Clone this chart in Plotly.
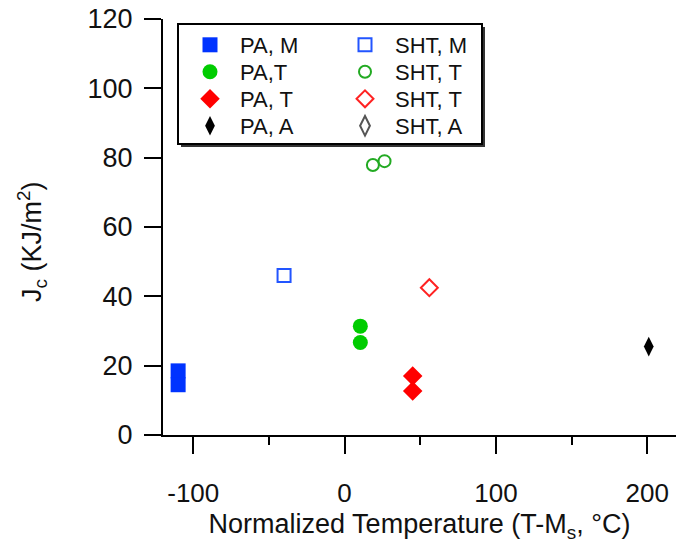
import plotly.graph_objects as go

# ---- data ----
pa_m_x = [-110, -110]
pa_m_y = [18.5, 14.5]
sht_m_x = [-40]
sht_m_y = [46]
pa_tg_x = [10.4, 10.4]
pa_tg_y = [31.4, 26.7]
sht_tg_x = [18.7, 26.4]
sht_tg_y = [77.9, 79.0]
pa_tr_x = [45, 45]
pa_tr_y = [17.0, 12.7]
sht_tr_x = [56]
sht_tr_y = [42.5]
pa_a_x = [201]
pa_a_y = [25.5]
sht_a_x = [222]
sht_a_y = [15]

x_ticks = [-100, 0, 100, 200]
x_ticktext = ["-100", "0", "100", "200"]
y_ticks = [0, 20, 40, 60, 80, 100, 120]

FONT = "Arial, Liberation Sans, sans-serif"
TXT = "#111111"

W, H = 676, 543
L, R, T, B = 163, 0, 19, 108
pw, ph = W - L - R, H - T - B

def px2paper_x(p):
    return (p - L) / pw

def px2paper_y(p):
    return (H - B - p) / ph

fig = go.Figure()

# legend slots: column left edges and row centres (px)
col_left = [180, 335]
row_mid = [45, 72, 99, 126]

def add(x, y, name, symbol, size, color, col, row, open_=False, lw=2):
    if open_:
        marker = dict(symbol=symbol + "-open", size=size, color=color,
                      line=dict(color=color, width=lw))
    else:
        marker = dict(symbol=symbol, size=size, color=color, line=dict(width=0))
    idx = col * 4 + row + 1
    lid = "legend" if idx == 1 else "legend%d" % idx
    fig.add_trace(go.Scatter(x=x, y=y, mode="markers", name=name, marker=marker,
                             legend=lid, cliponaxis=False))
    fig.update_layout({lid: dict(
        x=px2paper_x(col_left[col]), y=px2paper_y(row_mid[row]),
        xanchor="left", yanchor="middle",
        font=dict(family=FONT, size=22, color=TXT),
        bgcolor="rgba(0,0,0,0)", borderwidth=0, itemwidth=50,
        itemclick=False, itemdoubleclick=False)})

add(pa_m_x, pa_m_y, "PA, M", "square", 15, "#0033ff", 0, 0)
add(pa_tg_x, pa_tg_y, "PA,T", "circle", 15, "#00cc00", 0, 1)
add(pa_tr_x, pa_tr_y, "PA, T", "diamond", 15, "#ff0000", 0, 2)
add(pa_a_x, pa_a_y, "PA, A", "diamond-tall", 14, "#000000", 0, 3)

add(sht_m_x, sht_m_y, "SHT, M", "square", 13, "#2255ff", 1, 0, open_=True)
add(sht_tg_x, sht_tg_y, "SHT, T", "circle", 12, "#22aa22", 1, 1, open_=True)
add(sht_tr_x, sht_tr_y, "SHT, T", "diamond", 13, "#ff2222", 1, 2, open_=True)
add(sht_a_x, sht_a_y, "SHT, A", "diamond-tall", 14, "#555555", 1, 3, open_=True)

# legend frame with drop shadow
bx0, bx1, by0, by1 = 178, 482, 24, 144
fig.add_shape(type="rect", xref="paper", yref="paper",
              x0=px2paper_x(bx0 + 3), x1=px2paper_x(bx1 + 3),
              y0=px2paper_y(by1 + 3), y1=px2paper_y(by0 + 3),
              fillcolor="#333333", line=dict(width=0), layer="below")
fig.add_shape(type="rect", xref="paper", yref="paper",
              x0=px2paper_x(bx0), x1=px2paper_x(bx1),
              y0=px2paper_y(by1), y1=px2paper_y(by0),
              fillcolor="white", line=dict(color="black", width=2), layer="below")

# y-axis title placed as rotated text
fig.add_annotation(text="J<sub>c</sub> (KJ/m<sup>2</sup>)", xref="paper", yref="paper",
                   x=px2paper_x(32), y=px2paper_y(242), xanchor="center", yanchor="middle",
                   textangle=-90, showarrow=False,
                   font=dict(family=FONT, size=27, color=TXT))

fig.update_layout(
    width=W, height=H,
    margin=dict(l=L, r=R, t=T, b=B, pad=0),
    paper_bgcolor="white", plot_bgcolor="white",
    font=dict(family=FONT, color=TXT),
    showlegend=True,
    xaxis=dict(range=[-120, 219], tickvals=x_ticks, ticktext=x_ticktext,
               ticks="outside", ticklen=17,
               tickwidth=2, tickcolor="black", showline=True, linecolor="black",
               linewidth=2, showgrid=False, zeroline=False,
               tickfont=dict(family=FONT, size=26, color=TXT),
               ticklabelstandoff=17,
               minor=dict(tickvals=[-50, 50, 150], ticks="outside", ticklen=8,
                          tickwidth=2, tickcolor="black", showgrid=False),
               title=dict(text="Normalized Temperature (T-M<sub>s</sub>, °C)",
                          font=dict(family=FONT, size=27, color=TXT),
                          standoff=9)),
    yaxis=dict(range=[0, 120], tickvals=y_ticks, ticks="outside", ticklen=17,
               tickwidth=2, tickcolor="black", showline=True, linecolor="black",
               linewidth=2, showgrid=False, zeroline=False,
               tickfont=dict(family=FONT, size=27, color=TXT),
               ticklabelstandoff=6),
)

fig.write_html("out.html")
